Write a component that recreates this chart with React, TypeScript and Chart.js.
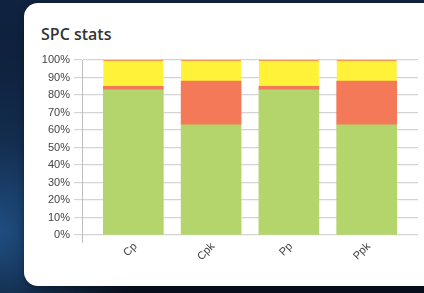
import React, { useEffect, useRef } from "react";
import { Chart, registerables } from "chart.js";

Chart.register(...registerables);

const categories = ["Cp", "Cpk", "Pp", "Ppk"];
const greenValues = [83, 63, 83, 63];
const orangeValues = [2, 25, 2, 25];
const yellowValues = [15, 12, 15, 12];
const yTickStep = 10;
const xMin = -0.66;
const xMax = 3.66;

const GREEN = "#b4d56b";
const ORANGE = "#f37959";
const YELLOW = "#fff238";

export default function App() {
  const canvasRef = useRef<HTMLCanvasElement | null>(null);

  useEffect(() => {
    const canvas = canvasRef.current;
    if (!canvas) return;
    const toPts = (arr: number[]) => arr.map((v, i) => ({ x: i, y: v }));
    const chart = new Chart(canvas, {
      type: "bar",
      data: {
        datasets: [
          { label: "Green", data: toPts(greenValues), backgroundColor: GREEN, borderWidth: 0 },
          { label: "Orange", data: toPts(orangeValues), backgroundColor: ORANGE, borderWidth: 0 },
          {
            label: "Yellow",
            data: toPts(yellowValues),
            backgroundColor: YELLOW,
            borderColor: ORANGE,
            borderWidth: { top: 1, left: 0, right: 0, bottom: 0 },
            borderSkipped: "bottom",
          },
        ] as any,
      },
      options: {
        animation: false,
        responsive: false,
        maintainAspectRatio: false,
        datasets: { bar: { barThickness: 60 } } as any,
        layout: { padding: { top: 16, right: 6, left: 0, bottom: 0 } },
        plugins: { legend: { display: false }, tooltip: { enabled: false }, title: { display: false } },
        scales: {
          x: {
            type: "linear",
            min: xMin,
            max: xMax,
            offset: false,
            stacked: true,
            afterBuildTicks: (s: any) => {
              s.ticks = [xMin, ...categories.map((_, i) => i)].map((v) => ({ value: v }));
            },
            afterFit: (s: any) => {
              s.height = 49;
            },
            ticks: {
              autoSkip: false,
              minRotation: 45,
              maxRotation: 45,
              labelOffset: 2,
              padding: -3,
              color: "#444",
              font: { family: "'Liberation Sans', Arial, sans-serif", size: 11 },
              callback: (v: any) => (Number.isInteger(v) && categories[v] ? categories[v] : ""),
            },
            grid: {
              offset: false,
              drawOnChartArea: false,
              drawTicks: true,
              tickLength: 8,
              color: (c: any) => (c.index === 0 ? "#bdbdbd" : "rgba(0,0,0,0)"),
            },
            border: { display: false },
          } as any,
          y: {
            stacked: true,
            min: 0,
            max: 100,
            afterFit: (s: any) => {
              s.width = 58;
            },
            ticks: {
              stepSize: yTickStep,
              padding: 4,
              color: "#444",
              font: { family: "'Liberation Sans', Arial, sans-serif", size: 11 },
              callback: (v: any) => v + "%",
            },
            grid: { color: "#d4d4d4", lineWidth: 1.2, tickLength: 8 },
            border: { color: "#bdbdbd", width: 1 },
          },
        },
      },
    });
    return () => chart.destroy();
  }, []);

  return (
    <div
      style={{
        position: "fixed",
        left: 0,
        top: 0,
        width: 424,
        height: 293,
        overflow: "hidden",
        background:
          "radial-gradient(ellipse 140px 180px at 0px 230px, #1f4d80 0%, rgba(25,60,100,0.5) 50%, rgba(15,31,56,0) 100%), linear-gradient(#0f223f, #0c1b33 85%, #080f1c)",
      }}
    >
      <div
        style={{
          position: "absolute",
          left: 24,
          top: 3,
          width: 420,
          height: 283,
          background: "#fff",
          borderRadius: 14,
          boxShadow: "0 2px 6px rgba(0,0,0,0.35)",
        }}
      >
        <div
          style={{
            position: "absolute",
            left: 17,
            top: 21,
            lineHeight: "20px",
            fontFamily: "'Open Sans', sans-serif",
            fontSize: 16,
            fontWeight: 600,
            color: "#333",
            whiteSpace: "nowrap",
          }}
        >
          SPC stats
        </div>
        <canvas
          ref={canvasRef}
          width={400}
          height={240}
          style={{ position: "absolute", left: 0, top: 41, width: 400, height: 240 }}
        />
      </div>
    </div>
  );
}
